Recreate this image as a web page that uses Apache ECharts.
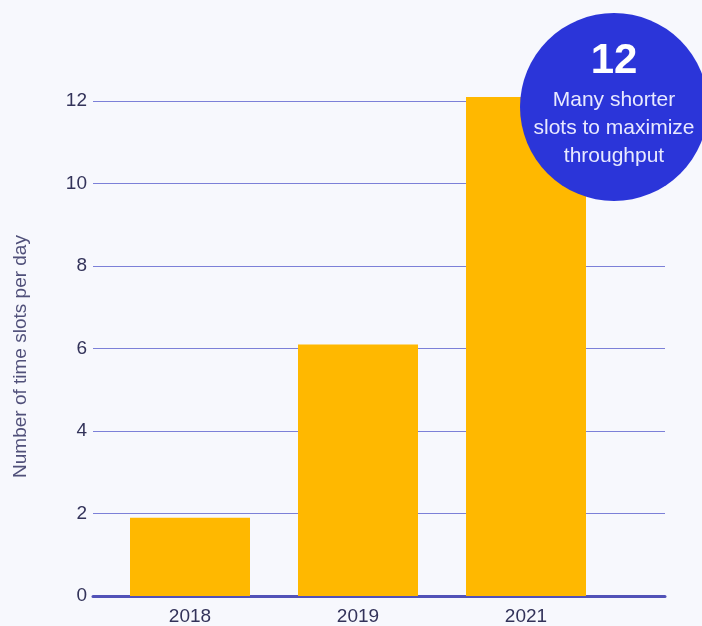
<!DOCTYPE html>
<html>
<head>
<meta charset="utf-8">
<script src="https://cdn.jsdelivr.net/npm/echarts@6/dist/echarts.min.js"></script>
<style>
html,body{margin:0;padding:0;background:#f7f8fd;}
#chart{width:702px;height:626px;}
</style>
</head>
<body>
<div id="chart"></div>
<script>
const categories = ['2018', '2019', '2021'];
const slotsPerDay = [1.9, 6.1, 12.1];
const yTicks = [0, 2, 4, 6, 8, 10, 12];
const yAxisTitle = 'Number of time slots per day';
const calloutValue = '12';
const calloutText = ['Many shorter', 'slots to maximize', 'throughput'];

const chart = echarts.init(document.getElementById('chart'));
const font = '"Liberation Sans", Arial, sans-serif';
chart.setOption({
  backgroundColor: '#f7f8fd',
  animation: false,
  textStyle: { fontFamily: font },
  grid: [
    { left: 93, right: 37, top: 101, bottom: 30 },
    { left: 106, right: 92, top: 101, bottom: 30 }
  ],
  xAxis: [
    { gridIndex: 0, type: 'value', min: 0, max: 1, axisLabel: { show: false }, axisTick: { show: false }, splitLine: { show: false },
      axisLine: { show: true, lineStyle: { color: '#5252b8', width: 3 } } },
    { gridIndex: 1, type: 'category', data: categories, axisLine: { show: false }, axisTick: { show: false },
      axisLabel: { color: '#33335a', fontSize: 19, margin: 11, fontFamily: font } }
  ],
  yAxis: [
    { gridIndex: 0, type: 'value', min: yTicks[0], max: yTicks[yTicks.length - 1], interval: 2,
      axisLine: { show: false }, axisTick: { show: false },
      axisLabel: { color: '#33335a', fontSize: 19, margin: 6, fontFamily: font },
      splitLine: { lineStyle: { color: '#7c80d8', width: 1 } },
      name: yAxisTitle, nameLocation: 'middle', nameRotate: 90, nameGap: 63,
      nameTextStyle: { color: '#50507a', fontSize: 19, fontFamily: font, padding: [0, 16, 0, 0] } },
    { gridIndex: 1, type: 'value', min: 0, max: 12, show: false, splitLine: { show: false } }
  ],
  series: [{
    type: 'bar', xAxisIndex: 1, yAxisIndex: 1, data: slotsPerDay, barWidth: 120, clip: false,
    itemStyle: { color: '#ffb800' }
  }],
  graphic: [
    { type: 'circle', shape: { cx: 614, cy: 107, r: 94 }, style: { fill: '#2b35d9' }, z: 100 },
    { type: 'text', x: 614, y: 61, z: 101, style: { text: calloutValue, fill: '#ffffff', font: 'bold 42px ' + font, textAlign: 'center', textVerticalAlign: 'middle' } },
    { type: 'text', x: 614, y: 128, z: 101, style: { text: calloutText.join('\n'), fill: '#e8e9ff', font: '21px ' + font, lineHeight: 28, textAlign: 'center', textVerticalAlign: 'middle' } }
  ]
});
</script>
</body>
</html>
